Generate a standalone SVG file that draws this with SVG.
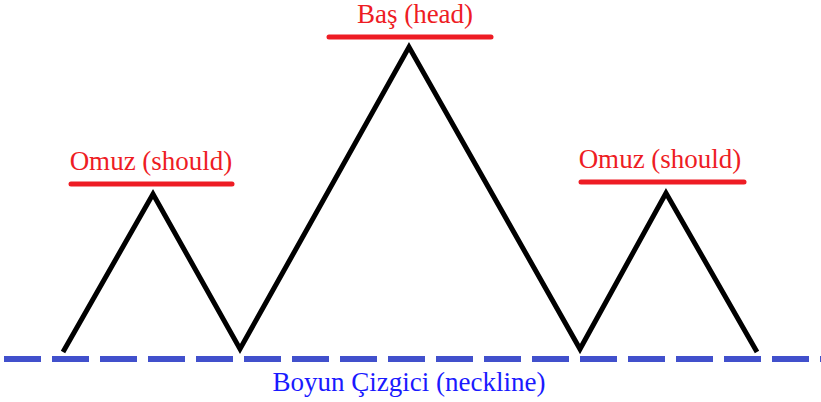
<svg xmlns="http://www.w3.org/2000/svg" width="821" height="402" viewBox="0 0 821 402">
<style>
.lbl{font-family:"Liberation Serif","Times New Roman",serif;font-size:27px;fill:#ee1c24}
.bar{stroke:#ee1c24;stroke-width:5;stroke-linecap:round}
.blue{font-family:"Liberation Serif","Times New Roman",serif;font-size:27px;fill:#1a1aff}
</style>
<rect width="821" height="402" fill="#fff"/>
<g id="connectors">
<polyline points="63,352 153,194 240,349 409,47 580,349 666,193 757,352" fill="none" stroke="#000" stroke-width="5"/>
</g>
<g id="neckline">
<line x1="4" y1="359" x2="821" y2="359" stroke="#4150cc" stroke-width="6" stroke-dasharray="37,11"/>
<text class="blue" x="409" y="391" text-anchor="middle">Boyun Çizgici (neckline)</text>
</g>
<g id="head">
<line class="bar" x1="329" y1="37" x2="491" y2="37"/>
<text class="lbl" x="415" y="23" text-anchor="middle">Baş (head)</text>
</g>
<g id="left-shoulder">
<line class="bar" x1="71" y1="184" x2="232" y2="184"/>
<text class="lbl" x="151" y="170" text-anchor="middle">Omuz (should)</text>
</g>
<g id="right-shoulder">
<line class="bar" x1="581" y1="182" x2="744" y2="182"/>
<text class="lbl" x="660" y="168" text-anchor="middle">Omuz (should)</text>
</g>
</svg>
